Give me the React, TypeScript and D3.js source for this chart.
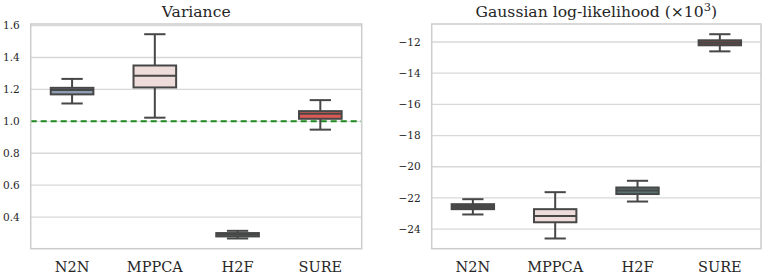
import React, { useEffect } from "react";
import * as d3 from "d3";

const categories = ["N2N", "MPPCA", "H2F", "SURE"];
const varFillColors = ["#8d9db3", "#eedcda", "#5e7777", "#dc5a55"];
const llFillColors = ["#4b4b4b", "#eedcda", "#587272", "#7e4848"];

// Variance panel
const varLow = [1.112, 1.023, 0.266, 0.948];
const varQ1 = [1.169, 1.2125, 0.279, 1.016];
const varMed = [1.196, 1.285, 0.291, 1.048];
const varQ3 = [1.21, 1.35, 0.3, 1.064];
const varHigh = [1.266, 1.546, 0.314, 1.133];
const varTicks = [0.4, 0.6, 0.8, 1.0, 1.2, 1.4, 1.6];
const varRef = 1.0;

// Gaussian log-likelihood panel (x10^3)
const llLow = [-23.06, -24.6, -22.23, -12.6];
const llQ1 = [-22.72, -23.56, -21.75, -12.21];
const llMed = [-22.55, -23.15, -21.53, -12.04];
const llQ3 = [-22.4, -22.72, -21.33, -11.89];
const llHigh = [-22.08, -21.63, -20.9, -11.5];
const llTicks = [-24, -22, -20, -18, -16, -14, -12];

const W = 767;
const H = 275;
const FONT = "'DejaVu Serif', serif";
const LINE = "#474747";

type PanelProps = {
  x0: number;
  x1: number;
  title: React.ReactNode;
  low: number[];
  q1: number[];
  med: number[];
  q3: number[];
  high: number[];
  fills: string[];
  ticks: number[];
  fmt: (v: number) => string;
  refLine?: number;
};

function Panel({ x0, x1, title, low, q1, med, q3, high, fills, ticks, fmt, refLine }: PanelProps) {
  const top = 24;
  const bottom = 248.7;
  const minV = d3.min(low)!;
  const maxV = d3.max(high)!;
  const pad = (maxV - minV) * 0.05;
  const y = d3.scaleLinear().domain([minV - pad, maxV + pad]).range([bottom, top]);
  const x = d3.scaleBand().domain(categories).range([x0, x1]).paddingInner(0).paddingOuter(0);
  const bw = x.bandwidth() * 0.515;
  const cw = bw / 2;
  return (
    <g>
      {ticks.map((t) => (
        <g key={t}>
          <line x1={x0} x2={x1} y1={y(t)} y2={y(t)} stroke="#d8d8d8" strokeWidth={1.3} />
          <text
            x={x0 - 11}
            y={y(t)}
            dy="0.35em"
            textAnchor="end"
            fontSize={10.5}
            fontFamily={FONT}
            fill="#262626"
          >
            {fmt(t)}
          </text>
        </g>
      ))}
      {refLine !== undefined && (
        <line
          x1={x0}
          x2={x1}
          y1={y(refLine)}
          y2={y(refLine)}
          stroke="#1e8a1e"
          strokeWidth={2}
          strokeDasharray="6,4"
        />
      )}
      {categories.map((c, i) => {
        const cx = x(c)! + x.bandwidth() / 2;
        return (
          <g key={c} stroke={LINE} strokeWidth={2} fill="none">
            <line x1={cx} x2={cx} y1={y(high[i])} y2={y(q3[i])} />
            <line x1={cx} x2={cx} y1={y(q1[i])} y2={y(low[i])} />
            <line x1={cx - cw / 2} x2={cx + cw / 2} y1={y(high[i])} y2={y(high[i])} />
            <line x1={cx - cw / 2} x2={cx + cw / 2} y1={y(low[i])} y2={y(low[i])} />
            <rect
              x={cx - bw / 2}
              y={y(q3[i])}
              width={bw}
              height={y(q1[i]) - y(q3[i])}
              fill={fills[i]}
            />
            <line x1={cx - bw / 2} x2={cx + bw / 2} y1={y(med[i])} y2={y(med[i])} />
          </g>
        );
      })}
      <rect x={x0} y={top} width={x1 - x0} height={bottom - top} fill="none" stroke="#cccccc" strokeWidth={1.5} />
      {categories.map((c) => (
        <text
          key={c}
          x={x(c)! + x.bandwidth() / 2}
          y={272}
          textAnchor="middle"
          fontSize={14.5}
          fontFamily={FONT}
          fill="#262626"
        >
          {c}
        </text>
      ))}
      <text
        x={(x0 + x1) / 2}
        y={16.7}
        textAnchor="middle"
        fontSize={15.6}
        fontFamily={FONT}
        fill="#262626"
      >
        {title}
      </text>
    </g>
  );
}

export default function App() {
  useEffect(() => {
    document.body.style.margin = "0";
  }, []);
  return (
    <svg width={W} height={H} style={{ display: "block", background: "#ffffff" }}>
      <Panel
        x0={30.7}
        x1={361.7}
        title="Variance"
        low={varLow}
        q1={varQ1}
        med={varMed}
        q3={varQ3}
        high={varHigh}
        fills={varFillColors}
        ticks={varTicks}
        fmt={d3.format(".1f")}
        refLine={varRef}
      />
      <Panel
        x0={431.7}
        x1={761}
        title={
          <>
            Gaussian log-likelihood (×10
            <tspan dy="-6" fontSize={11.5}>3</tspan>
            <tspan dy="6">)</tspan>
          </>
        }
        low={llLow}
        q1={llQ1}
        med={llMed}
        q3={llQ3}
        high={llHigh}
        fills={llFillColors}
        ticks={llTicks}
        fmt={d3.format("d")}
      />
    </svg>
  );
}
